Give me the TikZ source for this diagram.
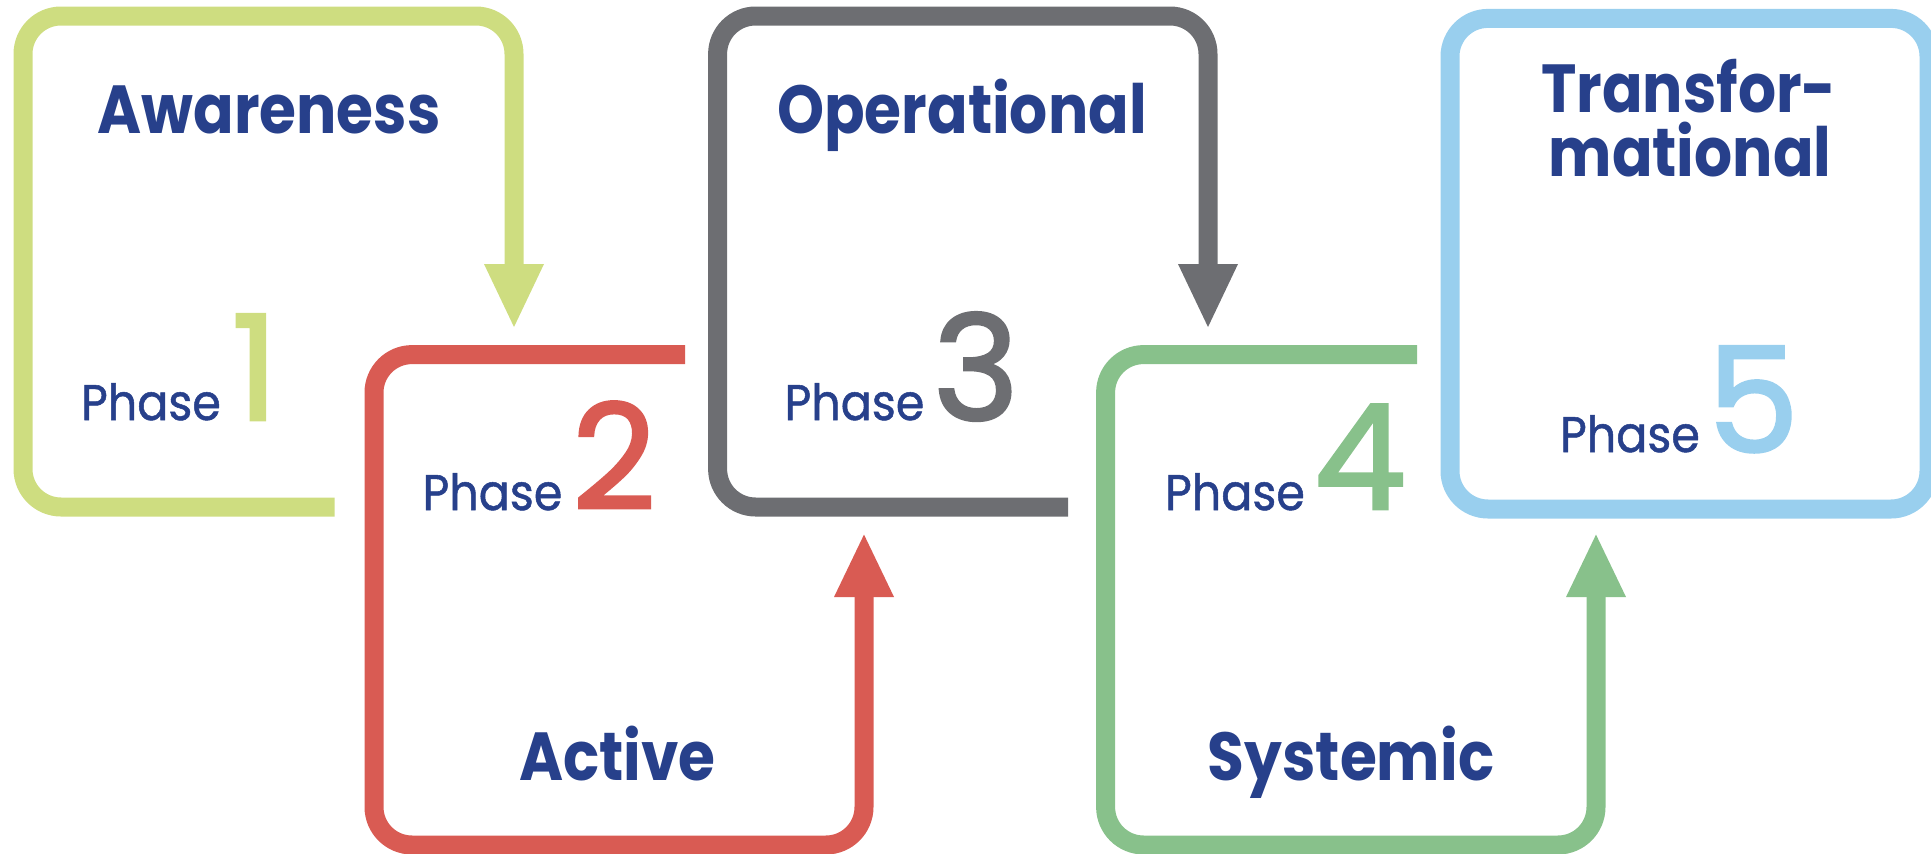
\documentclass[tikz,border=0pt]{standalone}
\usepackage{fontspec}
\setmainfont{Poppins}
\newfontfamily\titlefont{Poppins}[FakeStretch=0.88]
\newfontfamily\phasefont{Poppins}[FakeStretch=0.92,FakeBold=1]
\newfontfamily\numfont{Poppins}[FakeBold=2]
\definecolor{cA}{HTML}{CEDD80}
\definecolor{cB}{HTML}{D95B53}
\definecolor{cC}{HTML}{6D6E72}
\definecolor{cD}{HTML}{88C18B}
\definecolor{cE}{HTML}{99CFEE}
\definecolor{navy}{HTML}{27408B}
\begin{document}
\begin{tikzpicture}[x=1pt,y=-1pt,
  loop/.style={line width=19pt, rounded corners=38pt},
  title/.style={font=\titlefont\fontsize{68}{72}\selectfont\bfseries, text=navy, inner sep=0pt, anchor=base},
  phase/.style={font=\phasefont\fontsize{50}{54}\selectfont, text=navy, inner sep=0pt, anchor=base},
  num/.style={font=\numfont\fontsize{146}{150}\selectfont, inner sep=0pt, anchor=base}]
\useasboundingbox (0,0) rectangle (1931,854);
\clip (0,0) rectangle (1931,854);
% box 1
\coordinate (b1s) at (334.5,507);
\coordinate (b1bl) at (23,507);
\coordinate (b1tl) at (23,16);
\coordinate (b1tr) at (514,16);
\coordinate (b1a) at (514,266);
\coordinate (b1t) at (514,327);
\draw[loop,cA] (b1s) -- (b1bl) -- (b1tl) -- (b1tr) -- (b1a);
\fill[cA] (b1t) -- ++(-30,-63) -- ++(60,0) -- cycle;
% box 2
\coordinate (b2s) at (685,354.6);
\coordinate (b2tl) at (374,354.6);
\coordinate (b2bl) at (374,845);
\coordinate (b2br) at (864,845);
\coordinate (b2a) at (864,595);
\coordinate (b2t) at (864,534.6);
\draw[loop,cB] (b2s) -- (b2tl) -- (b2bl) -- (b2br) -- (b2a);
\fill[cB] (b2t) -- ++(-30,62.4) -- ++(60,0) -- cycle;
% box 3
\coordinate (b3s) at (1068,507);
\coordinate (b3bl) at (717.6,507);
\coordinate (b3tl) at (717.6,16);
\coordinate (b3tr) at (1208,16);
\coordinate (b3a) at (1208,266);
\coordinate (b3t) at (1208,327);
\draw[loop,cC] (b3s) -- (b3bl) -- (b3tl) -- (b3tr) -- (b3a);
\fill[cC] (b3t) -- ++(-30,-63) -- ++(60,0) -- cycle;
% box 4
\coordinate (b4s) at (1417,354.6);
\coordinate (b4tl) at (1105.6,354.6);
\coordinate (b4bl) at (1105.6,845);
\coordinate (b4br) at (1596,845);
\coordinate (b4a) at (1596,595);
\coordinate (b4t) at (1596,534.6);
\draw[loop,cD] (b4s) -- (b4tl) -- (b4bl) -- (b4br) -- (b4a);
\fill[cD] (b4t) -- ++(-30,62.4) -- ++(60,0) -- cycle;
% box 5
\draw[loop,cE] (1450,18.4) rectangle (1929,509);
% texts
\node[title] (t1) at (269,133) {Awareness};
\node[title] (t3) at (962,133) {Operational};
\node[title] (t5a) at (1689,112) {Transfor-};
\node[title] (t5b) at (1690,176) {mational};
\node[title] (t2) at (617.5,780) {Active};
\node[title] (t4) at (1351,780) {Systemic};
\node[phase] (p1) at (151,420) {Phase};
\node[num,text=cA] (n1) at (255,420) {1};
\node[phase] (p2) at (492.5,510) {Phase};
\node[num,text=cB] (n2) at (614,509) {2};
\node[phase] (p3) at (854.5,420) {Phase};
\node[num,text=cC] (n3) at (976,420) {3};
\node[phase] (p4) at (1235,510) {Phase};
\node[num,text=cD] (n4) at (1360,509) {4};
\node[phase] (p5) at (1630,452) {Phase};
\node[num,text=cE] (n5) at (1753,452) {5};
\end{tikzpicture}
\end{document}
